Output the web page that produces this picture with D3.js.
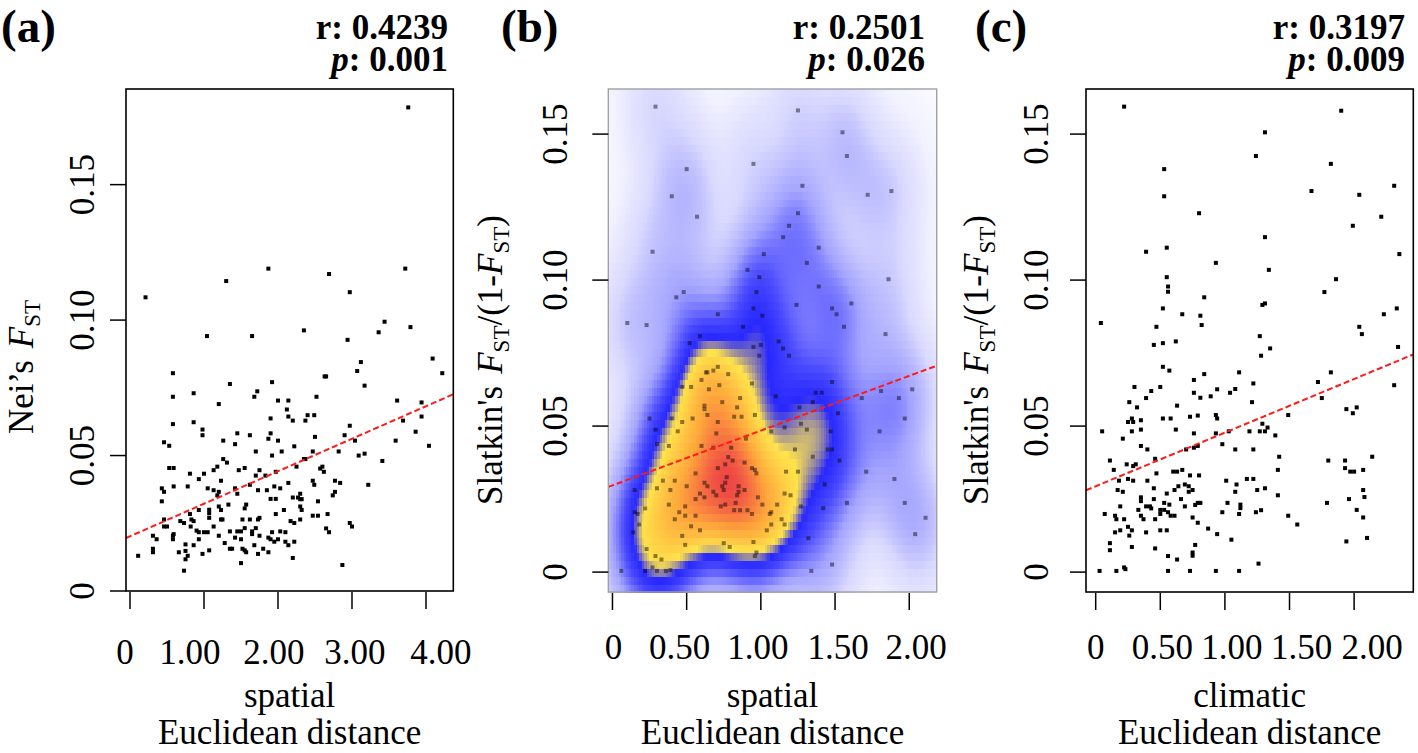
<!DOCTYPE html>
<html><head><meta charset="utf-8">
<script src="https://cdn.jsdelivr.net/npm/d3@7"></script>
<style>
body{margin:0;background:#fff}
svg{display:block}
text{font-family:"Liberation Serif","Times New Roman",serif;fill:#000}
</style>
</head><body>
<svg id="chart" width="1418" height="753"></svg>
<script>
// ---------------- DATA ----------------
// (a) spatial Euclidean distance vs Nei's FST
const aSpatial = [3.76,0.21,1.87,1.30,2.69,3.72,2.97,1.04,1.65,2.35,2.94,3.36,3.44,3.79,4.09,4.22,3.07,3.12,3.17,2.63,2.65,0.58,0.58,0.58,0.86,0.86,1.35,1.68,1.72,1.92,1.20,2.00,2.14,2.12,2.14,2.20,2.52,2.40,2.37,2.49,1.90,0.98,0.98,1.45,1.62,1.90,1.87,2.00,1.26,1.42,2.50,2.90,2.97,3.04,3.59,3.61,3.94,3.94,3.69,3.86,4.04,0.46,0.53,0.53,0.59,0.59,0.43,0.46,0.43,0.46,0.46,0.50,0.58,0.58,0.59,0.31,0.36,0.31,0.31,0.11,0.66,0.75,0.75,0.78,0.75,0.73,0.68,0.73,0.81,0.78,0.81,0.83,0.86,0.82,0.86,0.93,0.93,0.93,0.93,0.90,0.98,1.00,1.00,1.05,1.05,1.07,1.07,1.07,1.07,1.13,1.13,1.13,1.18,1.18,1.20,1.20,1.20,1.23,1.23,1.23,1.25,1.26,1.31,1.28,1.33,1.35,1.35,1.38,1.42,1.45,1.47,1.42,1.45,1.55,1.50,1.52,1.50,1.50,1.52,1.55,1.55,1.57,1.55,1.57,1.62,1.62,1.65,1.65,1.68,1.70,1.70,1.73,1.73,1.73,1.70,1.75,1.75,1.75,1.80,1.83,1.85,1.87,1.87,1.90,1.90,1.92,1.92,1.95,1.95,1.97,1.97,1.97,2.00,2.03,2.03,2.05,2.08,2.10,2.10,2.14,2.14,2.17,2.20,2.20,2.22,2.22,2.22,2.25,2.27,2.30,2.30,2.32,2.30,2.32,2.30,2.35,2.37,2.47,2.47,2.49,2.47,2.54,2.54,2.57,2.60,2.62,2.65,2.69,2.67,2.74,2.77,2.77,2.84,2.82,2.87,2.97,3.00,3.17,3.09,3.22,3.41];
const aNeiFst = [0.1785,0.1084,0.119,0.1144,0.117,0.119,0.1103,0.0941,0.0941,0.0962,0.0927,0.0955,0.0994,0.0974,0.0858,0.0804,0.0812,0.0845,0.0758,0.0792,0.0792,0.0804,0.0717,0.0616,0.073,0.0623,0.0764,0.0717,0.0737,0.0771,0.069,0.0703,0.0703,0.067,0.0644,0.0629,0.0717,0.0649,0.0629,0.0649,0.0637,0.0596,0.0575,0.0582,0.0575,0.0582,0.0562,0.0555,0.0555,0.0542,0.0569,0.0575,0.061,0.0555,0.0555,0.0703,0.0696,0.0644,0.0629,0.0588,0.0536,0.0549,0.0536,0.0454,0.0454,0.0386,0.0379,0.0366,0.0331,0.0264,0.0238,0.0238,0.0204,0.0191,0.021,0.0204,0.0191,0.0156,0.0143,0.013,0.0143,0.0172,0.0148,0.013,0.0117,0.0075,0.0258,0.0251,0.0433,0.0386,0.0284,0.0264,0.0258,0.0238,0.0169,0.0413,0.0299,0.0217,0.0191,0.0223,0.0137,0.0433,0.0217,0.0379,0.0217,0.015,0.03,0.0287,0.027,0.0446,0.0372,0.0238,0.0459,0.0353,0.0366,0.0312,0.0204,0.0407,0.0299,0.0264,0.0264,0.0487,0.0474,0.0177,0.0319,0.022,0.0156,0.0156,0.0379,0.0359,0.0446,0.0197,0.022,0.0454,0.022,0.0264,0.0191,0.0103,0.0156,0.015,0.0232,0.0319,0.0305,0.0143,0.0392,0.0264,0.022,0.021,0.0169,0.0515,0.0426,0.0372,0.0264,0.0137,0.0232,0.0446,0.027,0.0204,0.0156,0.0426,0.0372,0.0197,0.0143,0.0191,0.034,0.05,0.0217,0.0386,0.0182,0.044,0.034,0.0284,0.0191,0.0379,0.022,0.0515,0.0299,0.0217,0.0182,0.0399,0.0169,0.0258,0.0345,0.0122,0.0534,0.0251,0.0182,0.0459,0.0345,0.0359,0.0339,0.0339,0.0312,0.0299,0.0264,0.0487,0.0487,0.0515,0.0407,0.0392,0.0278,0.0278,0.0331,0.0452,0.0459,0.044,0.0231,0.0217,0.0284,0.0353,0.0366,0.0407,0.0399,0.0515,0.0096,0.0251,0.0238,0.0507,0.05,0.0392,0.048];

// (b) spatial Euclidean distance vs Slatkin's linearised FST
const bSpatial = [0.29,1.25,1.55,1.58,0.95,0.50,1.28,1.88,1.72,0.40,1.25,0.57,1.19,1.15,1.39,0.27,1.02,1.31,0.91,0.99,1.86,1.39,0.97,0.48,0.43,1.61,1.24,0.95,1.48,0.71,1.51,1.01,0.10,0.23,0.88,1.56,1.84,0.59,1.12,0.52,0.95,1.00,1.15,0.99,1.19,0.71,0.63,0.64,0.68,0.78,0.60,0.94,1.48,0.47,0.53,0.72,0.65,2.02,1.37,1.41,1.81,1.68,0.86,1.10,1.93,1.35,0.74,0.62,0.62,0.84,1.26,1.52,0.96,0.82,0.87,0.64,0.25,0.40,0.54,1.97,0.29,0.47,0.71,1.27,0.44,1.47,1.80,1.31,1.07,1.16,0.70,0.90,0.30,0.38,0.60,0.68,0.80,1.23,1.45,1.48,1.35,0.78,0.81,1.53,0.89,0.76,0.71,0.94,0.96,1.71,1.90,0.34,0.42,1.17,1.25,0.97,0.77,0.56,0.50,0.62,0.64,0.74,0.76,0.85,1.43,0.15,0.30,0.39,0.68,0.75,0.85,0.89,0.59,0.70,0.84,1.16,1.20,0.62,0.98,1.58,0.38,0.56,0.76,0.83,1.01,1.97,1.11,0.49,0.73,1.27,1.42,0.15,0.22,0.45,0.56,0.82,0.86,0.91,0.94,0.49,1.06,1.07,2.11,0.17,0.42,1.14,0.18,0.53,0.59,1.07,1.16,1.32,2.04,0.14,1.04,0.47,0.49,0.23,0.75,0.79,0.95,0.97,0.96,0.29,0.33,0.27,1.48,0.06,0.22,0.30,0.36,0.39,1.34];
const bSlatkin = [0.1594,0.1581,0.1506,0.1425,0.1398,0.138,0.1323,0.1305,0.1292,0.1287,0.1229,0.1217,0.1186,0.1147,0.1111,0.1097,0.1089,0.1059,0.1035,0.101,0.1003,0.0978,0.0959,0.0959,0.0941,0.092,0.0915,0.0903,0.0903,0.0883,0.0883,0.0878,0.0853,0.0846,0.084,0.084,0.0815,0.0808,0.079,0.0784,0.0771,0.0778,0.0766,0.0741,0.0741,0.0703,0.0684,0.0684,0.069,0.0678,0.0658,0.0646,0.0651,0.0634,0.0634,0.064,0.0626,0.0626,0.0614,0.0614,0.062,0.0596,0.0596,0.0602,0.0596,0.0582,0.0582,0.057,0.0558,0.0564,0.0564,0.0544,0.0538,0.0532,0.0532,0.0538,0.0526,0.0526,0.0526,0.0526,0.0488,0.0514,0.0514,0.0508,0.0482,0.0482,0.0482,0.0488,0.0482,0.0495,0.0475,0.0457,0.0438,0.0432,0.0432,0.0426,0.0426,0.042,0.042,0.042,0.0395,0.0394,0.0382,0.0382,0.0375,0.0369,0.0356,0.0356,0.035,0.0344,0.0319,0.0313,0.0313,0.0344,0.0344,0.0338,0.0325,0.0338,0.0294,0.0306,0.0294,0.0294,0.0306,0.0294,0.03,0.0281,0.0287,0.0281,0.0275,0.0281,0.0275,0.0281,0.0269,0.0263,0.0263,0.0269,0.0263,0.0256,0.0256,0.0237,0.0231,0.025,0.0231,0.0237,0.0231,0.0237,0.0231,0.0225,0.0225,0.0225,0.0219,0.0205,0.0218,0.0205,0.0193,0.0212,0.0212,0.0212,0.0199,0.0193,0.0199,0.0205,0.0186,0.0199,0.0181,0.0181,0.0163,0.0157,0.0143,0.0163,0.0163,0.0116,0.013,0.0136,0.0143,0.0124,0.0093,0.0079,0.0099,0.0086,0.0103,0.0067,0.0055,0.0055,0.0043,0.0016,0.0026,0.0004,0.0004,0.0004,0.0004,0.0007,0.0004];

// (c) climatic Euclidean distance vs Slatkin's linearised FST
const cClimatic = [0.22,1.90,1.31,1.24,1.82,0.53,2.31,1.67,2.04,0.53,0.80,2.21,1.99,1.31,0.55,2.35,0.39,0.93,1.34,0.55,1.86,0.56,0.56,1.77,0.84,0.52,1.31,1.29,2.33,0.67,0.81,2.23,0.04,0.82,0.47,2.04,2.06,1.27,0.62,0.45,0.52,1.35,2.34,1.28,0.52,0.57,1.11,1.82,0.84,0.76,1.72,1.22,2.31,0.30,0.50,1.08,0.94,0.43,1.04,0.76,0.89,0.81,0.39,1.75,1.21,0.26,0.32,0.63,1.94,2.02,1.99,1.49,0.93,0.79,0.73,0.52,0.58,0.94,0.28,0.29,0.25,0.35,1.29,1.33,1.31,1.27,1.19,1.03,0.62,0.35,0.28,0.05,0.93,0.76,1.39,0.21,0.98,0.35,0.79,0.76,0.40,0.70,1.08,1.22,1.42,2.14,0.46,0.11,1.80,1.93,0.24,0.31,0.29,0.14,1.93,1.41,2.07,1.97,2.00,0.60,0.63,0.67,0.47,0.80,0.73,0.25,0.18,0.29,0.40,1.17,1.22,1.01,1.09,0.64,0.69,0.72,0.45,0.61,0.75,2.07,0.17,1.25,1.31,1.08,0.72,0.21,0.55,2.08,1.41,0.35,0.45,0.35,1.96,0.53,0.66,1.79,0.79,0.81,0.77,1.02,0.57,0.69,0.39,0.42,0.19,1.12,1.12,0.50,0.53,0.33,0.43,2.02,0.56,1.28,1.24,0.98,0.07,0.50,0.58,0.61,1.11,0.35,0.75,1.49,0.15,0.37,0.46,0.16,0.22,2.07,0.79,1.56,0.25,0.28,0.50,0.55,0.19,0.87,0.15,0.26,0.94,0.39,2.10,1.05,1.94,0.11,0.77,0.28,0.11,0.46,0.75,0.75,0.56,0.63,1.26,0.22,0.23,0.03,0.16,0.56,0.73,0.93,1.11];
const cSlatkin = [0.1594,0.158,0.1506,0.1425,0.1398,0.138,0.1323,0.1305,0.1292,0.1287,0.1229,0.1217,0.1186,0.1147,0.1111,0.1089,0.1097,0.1059,0.1035,0.101,0.1003,0.0978,0.096,0.0959,0.0941,0.0903,0.092,0.0915,0.0903,0.0883,0.0878,0.0883,0.0853,0.0846,0.084,0.084,0.0815,0.0808,0.079,0.0778,0.0784,0.0766,0.0771,0.0741,0.0703,0.069,0.0684,0.0684,0.0678,0.0658,0.0651,0.0646,0.064,0.0634,0.0634,0.0627,0.0626,0.062,0.0614,0.0614,0.0602,0.0597,0.0596,0.0596,0.0582,0.0582,0.0564,0.057,0.0558,0.0564,0.0544,0.0538,0.0538,0.0536,0.0532,0.0526,0.0526,0.0526,0.0526,0.0514,0.0514,0.052,0.0508,0.0495,0.0482,0.0482,0.0482,0.0482,0.0488,0.0488,0.0482,0.0482,0.0475,0.0475,0.0468,0.0457,0.0438,0.0432,0.0432,0.0426,0.042,0.042,0.042,0.042,0.0395,0.0395,0.0388,0.0382,0.0382,0.0382,0.0369,0.0369,0.0363,0.035,0.0356,0.035,0.035,0.0344,0.0344,0.0344,0.0344,0.035,0.0338,0.0331,0.0331,0.0319,0.0313,0.0313,0.0313,0.0319,0.0319,0.0313,0.03,0.0294,0.03,0.0294,0.0287,0.0281,0.0281,0.0281,0.0281,0.0281,0.0287,0.0275,0.0275,0.0275,0.0269,0.0257,0.0263,0.0256,0.025,0.0243,0.025,0.0237,0.025,0.0237,0.0237,0.0237,0.023,0.0237,0.0231,0.0225,0.0225,0.0225,0.0225,0.0231,0.0219,0.0213,0.0213,0.0213,0.0218,0.0213,0.0205,0.0212,0.0205,0.0205,0.0199,0.0199,0.0193,0.0193,0.0199,0.0193,0.0187,0.0193,0.0193,0.0181,0.0181,0.0181,0.0181,0.0187,0.0169,0.0163,0.0155,0.0143,0.0143,0.0143,0.0143,0.0149,0.0136,0.0125,0.013,0.0136,0.0117,0.0111,0.0105,0.0099,0.0093,0.0086,0.0075,0.0081,0.0067,0.0056,0.0055,0.0043,0.0029,0.0016,0.001,0.0004,0.0004,0.0004,0.0004,0.0004,0.0004];

// axis ticks and labels
const xTicksA = [0, 1, 2, 3, 4];
const xTickLabelsA = ["0", "1.00", "2.00", "3.00", "4.00"];
const xTicksBC = [0, 0.5, 1, 1.5, 2];
const xTickLabelsBC = ["0", "0.50", "1.00", "1.50", "2.00"];
const yTicks = [0, 0.05, 0.10, 0.15];
const yTickLabels = ["0", "0.05", "0.10", "0.15"];

// panel texts and Mantel statistics
const panelLetters = ["(a)", "(b)", "(c)"];
const rValues = ["0.4239", "0.2501", "0.3197"];
const pValues = ["0.001", "0.026", "0.009"];
const xTitles = ["spatial", "spatial", "climatic"];
// fitted regression lines (intercept, slope)
const fitIntercepts = [0.0202, 0.0297, 0.0294];
const fitSlopes = [0.0120, 0.01875, 0.01836];

// ---------------- LAYOUT ----------------
const svg = d3.select("#chart");
const FS = 35;

const panels = [
  {xs: aSpatial, ys: aNeiFst, box: [126, 89, 453.3, 591], xDom: [-0.054, 4.369], yDom: [0, 0.1853],
   xTicks: xTicksA, xLabels: xTickLabelsA, labDx: [-5, -14, -4, 3, 15], labY: 664,
   yLabX: 94, yTitleX: 33, yTitleY: 367, letterX: 1, statX: 448, density: false, nei: true},
  {xs: bSpatial, ys: bSlatkin, box: [608.3, 89, 936.7, 592], xDom: [-0.028, 2.185], yDom: [-0.00682, 0.16544],
   xTicks: xTicksBC, xLabels: xTickLabelsBC, labDx: [1, -7, -3, 3, 7], labY: 659,
   yLabX: 567, yTitleX: 502, yTitleY: 360, letterX: 501, statX: 925, density: true, nei: false},
  {xs: cClimatic, ys: cSlatkin, box: [1086, 89, 1413.3, 592], xDom: [-0.075, 2.458], yDom: [-0.00682, 0.16544],
   xTicks: xTicksBC, xLabels: xTickLabelsBC, labDx: [0, 2, 7, 12, 18], labY: 659,
   yLabX: 1048, yTitleX: 988, yTitleY: 360, letterX: 975, statX: 1405, density: false, nei: false}
];

// colour ramp for smoothed density (white -> lavender -> blue -> yellow -> red), on 4th-root scale
const densColor = d3.scaleLinear()
  .domain([0, 0.25, 0.45, 0.60, 0.705, 0.765, 0.815, 0.91, 1])
  .range(["#ffffff", "#f2f2ff", "#d9d9ff", "#a4a4ff", "#4a4aff", "#2828ff", "#ffe34b", "#ffa63c", "#ee4646"])
  .interpolate(d3.interpolateRgb)
  .clamp(true);

panels.forEach((p, i) => {
  const [x0, y0, x1, y1] = p.box;
  const x = d3.scaleLinear().domain(p.xDom).range([x0, x1]);
  const y = d3.scaleLinear().domain(p.yDom).range([y1, y0]);
  const g = svg.append("g");

  // density background (smoothed scatter)
  if (p.density) {
    const nx = 128, ny = 64;
    const bx = 0.13, by = 0.013;
    const dx = (p.xDom[1] - p.xDom[0]) / nx, dy = (p.yDom[1] - p.yDom[0]) / ny;
    const cells = [];
    let maxD = 0;
    for (let j = 0; j < ny; j++) {
      for (let k = 0; k < nx; k++) {
        const cx = p.xDom[0] + (k + 0.5) * dx, cy = p.yDom[0] + (j + 0.5) * dy;
        let s = 0;
        for (let m = 0; m < p.xs.length; m++) {
          const u = (cx - p.xs[m]) / bx, v = (cy - p.ys[m]) / by;
          s += Math.exp(-0.5 * (u * u + v * v));
        }
        cells.push({x: p.xDom[0] + k * dx, y: p.yDom[0] + j * dy, d: s});
        if (s > maxD) maxD = s;
      }
    }
    const root = Math.pow(maxD, 0.25);
    g.append("g").selectAll("rect").data(cells).join("rect")
      .attr("x", d => x(d.x))
      .attr("y", d => y(d.y + dy))
      .attr("width", d => x(d.x + dx) - x(d.x) + 0.6)
      .attr("height", d => y(d.y) - y(d.y + dy) + 0.6)
      .attr("fill", d => densColor(Math.pow(d.d, 0.25) / root))
      .attr("shape-rendering", "crispEdges");
  }

  // points
  const pts = p.xs.map((v, k) => [v, p.ys[k]]);
  g.append("g").selectAll("rect").data(pts).join("rect")
    .attr("x", d => x(d[0]) - 2)
    .attr("y", d => y(d[1]) - 2)
    .attr("width", 4).attr("height", 4)
    .attr("fill", "#000")
    .attr("fill-opacity", p.density ? 0.45 : 1);

  // regression line
  g.append("line")
    .attr("x1", x(p.xDom[0])).attr("y1", y(fitIntercepts[i] + fitSlopes[i] * p.xDom[0]))
    .attr("x2", x(p.xDom[1])).attr("y2", y(fitIntercepts[i] + fitSlopes[i] * p.xDom[1]))
    .attr("stroke", "#ff1a1a").attr("stroke-width", 2).attr("stroke-dasharray", "6,3");

  // box
  g.append("rect").attr("x", x0).attr("y", y0).attr("width", x1 - x0).attr("height", y1 - y0)
    .attr("fill", "none").attr("stroke", p.density ? "#a0a0a0" : "#000").attr("stroke-width", p.density ? 1.4 : 1.6);

  // x ticks
  g.append("g").selectAll("line").data(p.xTicks).join("line")
    .attr("x1", d => x(d)).attr("x2", d => x(d))
    .attr("y1", y1 + 1).attr("y2", y1 + 18)
    .attr("stroke", "#000").attr("stroke-width", 1.5);
  g.append("g").selectAll("text").data(p.xTicks).join("text")
    .attr("x", (d, k) => x(d) + p.labDx[k]).attr("y", p.labY)
    .attr("text-anchor", "middle").attr("font-size", FS)
    .text((d, k) => p.xLabels[k]);

  // y ticks
  g.append("g").selectAll("line").data(yTicks).join("line")
    .attr("x1", x0 - 16).attr("x2", x0)
    .attr("y1", d => y(d)).attr("y2", d => y(d))
    .attr("stroke", "#000").attr("stroke-width", 1.5);
  g.append("g").selectAll("text").data(yTicks).join("text")
    .attr("transform", d => `translate(${p.yLabX},${y(d)}) rotate(-90)`)
    .attr("text-anchor", "middle").attr("font-size", FS)
    .text((d, k) => yTickLabels[k]);

  // y title
  const yt = g.append("text")
    .attr("transform", `translate(${p.yTitleX},${p.yTitleY}) rotate(-90)`)
    .attr("text-anchor", "middle").attr("font-size", FS);
  if (p.nei) {
    yt.append("tspan").text("Nei’s");
    yt.append("tspan").attr("dx", 12).attr("font-style", "italic").text("F");
    yt.append("tspan").attr("font-size", 23).attr("dy", 7).text("ST");
  } else {
    yt.append("tspan").text("Slatkin's");
    yt.append("tspan").attr("dx", 12).attr("font-style", "italic").text("F");
    yt.append("tspan").attr("font-size", 23).attr("dy", 7).text("ST");
    yt.append("tspan").attr("dy", -7).text("/(1-");
    yt.append("tspan").attr("font-style", "italic").text("F");
    yt.append("tspan").attr("font-size", 23).attr("dy", 7).text("ST");
    yt.append("tspan").attr("dy", -7).text(")");
  }

  // x titles
  const cx = (x0 + x1) / 2;
  g.append("text").attr("x", cx).attr("y", 707).attr("text-anchor", "middle").attr("font-size", FS).text(xTitles[i]);
  g.append("text").attr("x", cx).attr("y", 744).attr("text-anchor", "middle").attr("font-size", FS).text("Euclidean distance");

  // panel letter
  g.append("text").attr("x", p.letterX).attr("y", 42).attr("font-size", 47).attr("font-weight", "bold").text(panelLetters[i]);

  // stats
  g.append("text").attr("x", p.statX).attr("y", 39).attr("text-anchor", "end")
    .attr("font-size", FS).attr("font-weight", "bold").text("r: " + rValues[i]);
  const pt = g.append("text").attr("x", p.statX).attr("y", 71).attr("text-anchor", "end")
    .attr("font-size", FS).attr("font-weight", "bold");
  pt.append("tspan").attr("font-style", "italic").text("p");
  pt.append("tspan").text(": " + pValues[i]);
});
</script>
</body></html>
